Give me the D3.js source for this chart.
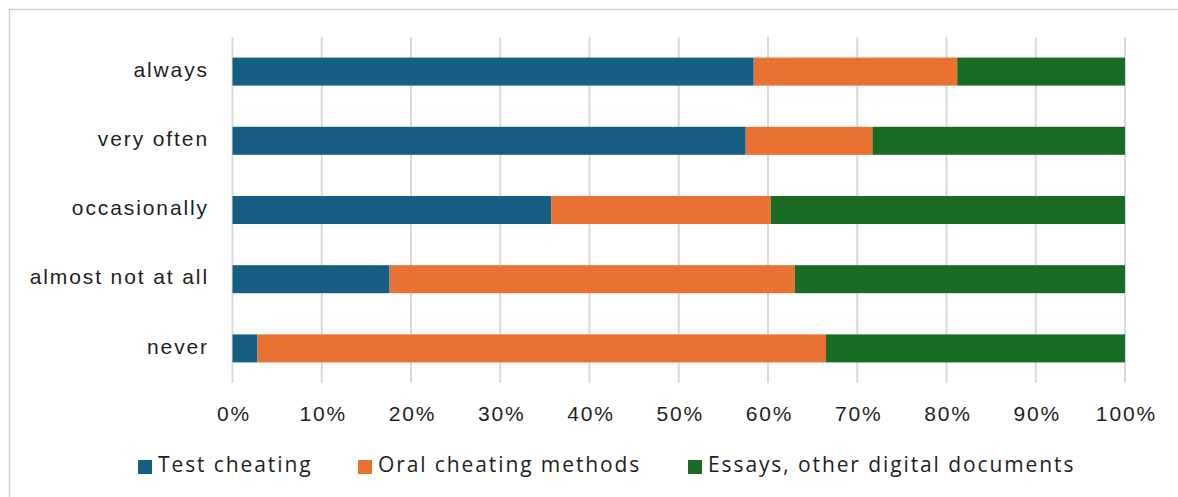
<!DOCTYPE html>
<html>
<head>
<meta charset="utf-8">
<script src="https://cdn.jsdelivr.net/npm/d3@7"></script>
<style>
  html, body { margin: 0; padding: 0; background: #fff; }
  svg { display: block; font-family: "Open Sans", "Liberation Sans", sans-serif; }
</style>
</head>
<body>
<svg id="chart" width="1178" height="497"></svg>
<script>
// Response frequency categories (top to bottom)
const categories = ["always", "very often", "occasionally", "almost not at all", "never"];

// Share of each cheating method per category, in percent
const testCheating  = [58.4, 57.5, 35.7, 17.6, 2.8];
const oralCheating  = [22.8, 14.2, 24.6, 45.4, 63.7];
const essaysDigital = [18.8, 28.3, 39.7, 37.0, 33.5];

const seriesNames = ["Test cheating", "Oral cheating methods", "Essays, other digital documents"];
const seriesColors = ["#175F82", "#E97132", "#1A6B24"];
const tickValues = [0, 10, 20, 30, 40, 50, 60, 70, 80, 90, 100];

const fontSize = "21px";
const spacing = "1.9px";

const svg = d3.select("#chart");

// Outer chart border
svg.append("rect")
  .attr("x", 9.5).attr("y", 9.5)
  .attr("width", 1200).attr("height", 520)
  .attr("fill", "none")
  .attr("stroke", "#d0d0d0")
  .attr("stroke-width", 1.5);

const x = d3.scaleLinear().domain([0, 100]).range([232.5, 1125]);
const y = d3.scaleBand().domain(categories).range([37, 383]).paddingInner(0.595).paddingOuter(0.2975);

// Vertical gridlines
svg.append("g")
  .selectAll("line")
  .data(tickValues)
  .join("line")
  .attr("x1", d => x(d)).attr("x2", d => x(d))
  .attr("y1", 37).attr("y2", 383)
  .attr("stroke", "#d9d9d9")
  .attr("stroke-width", 2);

// Stack the three series
const rows = categories.map((c, i) => ({
  cat: c,
  s0: testCheating[i],
  s1: oralCheating[i],
  s2: essaysDigital[i]
}));
const stack = d3.stack().keys(["s0", "s1", "s2"]);
const layers = stack(rows);

svg.append("g")
  .selectAll("g")
  .data(layers)
  .join("g")
  .attr("fill", (d, i) => seriesColors[i])
  .selectAll("rect")
  .data(d => d)
  .join("rect")
  .attr("x", d => x(d[0]))
  .attr("width", d => x(d[1]) - x(d[0]))
  .attr("y", d => y(d.data.cat))
  .attr("height", y.bandwidth());

// Category axis (labels only)
const yAxis = d3.axisLeft(y).tickSize(0).tickPadding(0);
const gy = svg.append("g")
  .attr("transform", "translate(209,0)")
  .call(yAxis);
gy.select(".domain").remove();
gy.selectAll("text")
  .attr("fill", "#1e1e1e")
  .style("font-size", fontSize)
  .style("letter-spacing", spacing)
  .attr("dy", "0.25em");

// Percentage axis (labels only)
const xAxis = d3.axisBottom(x)
  .tickValues(tickValues)
  .tickFormat(d => d + "%")
  .tickSize(0)
  .tickPadding(0);
const gx = svg.append("g")
  .attr("transform", "translate(1,414)")
  .call(xAxis);
gx.select(".domain").remove();
gx.selectAll("text")
  .attr("fill", "#1e1e1e")
  .attr("dy", "0.35em")
  .style("font-size", fontSize)
  .style("letter-spacing", spacing);

// Legend
const legendX = [138, 358, 688];
const legend = svg.append("g")
  .selectAll("g")
  .data(seriesNames)
  .join("g")
  .attr("transform", (d, i) => `translate(${legendX[i]},460)`);
legend.append("rect")
  .attr("width", 14).attr("height", 14)
  .attr("fill", (d, i) => seriesColors[i]);
legend.append("text")
  .attr("x", 20).attr("y", 5)
  .attr("dy", "0.35em")
  .attr("fill", "#1e1e1e")
  .style("font-size", fontSize)
  .style("letter-spacing", spacing)
  .text(d => d);
</script>
</body>
</html>
